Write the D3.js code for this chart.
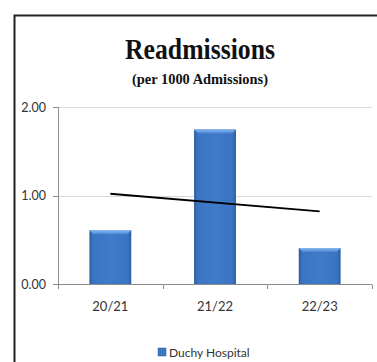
<!DOCTYPE html>
<html>
<head>
<meta charset="utf-8">
<script src="https://cdn.jsdelivr.net/npm/d3@7"></script>
<style>
  html, body { margin: 0; padding: 0; background: #fff; overflow: hidden; }
  svg { display: block; }
</style>
</head>
<body>
<svg id="chart" width="377" height="362"></svg>
<script>
// Readmission rates per 1000 admissions, by financial year
const categories = ["20/21", "21/22", "22/23"];
const seriesName = "Duchy Hospital";
const readmissions = [0.61, 1.75, 0.41];
const yTicks = [0, 1, 2];
const yTickLabels = ["0.00", "1.00", "2.00"];

const svg = d3.select("#chart");

// chart frame: only the top and left edges fall inside the view
svg.append("path")
  .attr("d", "M14.5,362V15.5H377")
  .attr("fill", "none")
  .attr("stroke", "#222").attr("stroke-width", 2);

// titles
svg.append("text")
  .attr("x", 200).attr("y", 59)
  .attr("text-anchor", "middle")
  .attr("font-family", "'Liberation Serif', 'DejaVu Serif', serif")
  .attr("font-weight", "bold")
  .attr("font-size", 30)
  .attr("textLength", 150).attr("lengthAdjust", "spacingAndGlyphs")
  .attr("fill", "#111")
  .text("Readmissions");

svg.append("text")
  .attr("x", 200).attr("y", 84)
  .attr("text-anchor", "middle")
  .attr("font-family", "'Liberation Serif', 'DejaVu Serif', serif")
  .attr("font-weight", "bold")
  .attr("font-size", 15)
  .attr("textLength", 136).attr("lengthAdjust", "spacingAndGlyphs")
  .attr("fill", "#111")
  .text("(per 1000 Admissions)");

const x = d3.scaleBand()
  .domain(categories)
  .range([58, 372])
  .paddingInner(0.6)
  .paddingOuter(0.3);

const xEdges = d3.scaleBand().domain(categories).range([58, 372]).padding(0);

const y = d3.scaleLinear().domain([0, 2]).range([284.3, 107.3]);

const labelFont = "'Lato', 'Open Sans', sans-serif";
const axisColor = "#8c8c8c";

// gridlines
svg.append("g")
  .selectAll("line")
  .data(yTicks.filter(d => d > 0))
  .join("line")
  .attr("x1", 58).attr("x2", 372)
  .attr("y1", d => Math.round(y(d)) + 0.5)
  .attr("y2", d => Math.round(y(d)) + 0.5)
  .attr("stroke", "#d9d9d9").attr("stroke-width", 1);

// bar shading
const defs = svg.append("defs");
const sideGrad = defs.append("linearGradient").attr("id", "barSide")
  .attr("x1", "0").attr("x2", "1").attr("y1", "0").attr("y2", "0");
sideGrad.append("stop").attr("offset", "0").attr("stop-color", "#2b5c9f");
sideGrad.append("stop").attr("offset", "0.08").attr("stop-color", "#3a74c2");
sideGrad.append("stop").attr("offset", "0.5").attr("stop-color", "#3f7bca");
sideGrad.append("stop").attr("offset", "0.92").attr("stop-color", "#3a74c2");
sideGrad.append("stop").attr("offset", "1").attr("stop-color", "#2b5c9f");

const topGrad = defs.append("linearGradient").attr("id", "barTop")
  .attr("x1", "0").attr("x2", "0").attr("y1", "0").attr("y2", "1");
topGrad.append("stop").attr("offset", "0").attr("stop-color", "#86b8f2");
topGrad.append("stop").attr("offset", "1").attr("stop-color", "#4a86d2");

const bars = svg.append("g");
bars.selectAll("rect.bar")
  .data(readmissions)
  .join("rect")
  .attr("class", "bar")
  .attr("x", (d, i) => x(categories[i]))
  .attr("width", x.bandwidth())
  .attr("y", d => y(d))
  .attr("height", d => y(0) - y(d))
  .attr("fill", "url(#barSide)");

bars.selectAll("path.bevel")
  .data(readmissions)
  .join("path")
  .attr("class", "bevel")
  .attr("d", (d, i) => {
    const x0 = x(categories[i]), x1 = x0 + x.bandwidth(), y0 = y(d), b = 4;
    return `M${x0},${y0}L${x1},${y0}L${x1 - b},${y0 + b}L${x0 + b},${y0 + b}Z`;
  })
  .attr("fill", "url(#barTop)");

// y axis
svg.append("line")
  .attr("x1", 58.5).attr("x2", 58.5)
  .attr("y1", y(2)).attr("y2", y(0))
  .attr("stroke", axisColor);
svg.append("g")
  .selectAll("line")
  .data(yTicks)
  .join("line")
  .attr("x1", 53).attr("x2", 58.5)
  .attr("y1", d => Math.round(y(d)) + 0.5)
  .attr("y2", d => Math.round(y(d)) + 0.5)
  .attr("stroke", axisColor);
svg.append("g")
  .selectAll("text")
  .data(yTicks)
  .join("text")
  .attr("x", 46)
  .attr("y", d => y(d) + 4.5)
  .attr("text-anchor", "end")
  .attr("font-family", labelFont)
  .attr("font-size", 12.5)
  .attr("fill", "#333")
  .text((d, i) => yTickLabels[i]);

// x axis
svg.append("line")
  .attr("x1", 58).attr("x2", 372)
  .attr("y1", Math.round(y(0)) + 0.5).attr("y2", Math.round(y(0)) + 0.5)
  .attr("stroke", axisColor);
const edges = categories.map(c => xEdges(c)).concat([372]);
svg.append("g")
  .selectAll("line")
  .data(edges)
  .join("line")
  .attr("x1", d => Math.round(d) + 0.5).attr("x2", d => Math.round(d) + 0.5)
  .attr("y1", Math.round(y(0)) + 0.5).attr("y2", Math.round(y(0)) + 5)
  .attr("stroke", axisColor);
svg.append("g")
  .selectAll("text")
  .data(categories)
  .join("text")
  .attr("x", d => x(d) + x.bandwidth() / 2)
  .attr("y", 311)
  .attr("text-anchor", "middle")
  .attr("font-family", labelFont)
  .attr("font-size", 13)
  .attr("fill", "#333")
  .text(d => d);

// linear trendline (least squares over the series)
const n = readmissions.length;
const xs = readmissions.map((d, i) => i + 1);
const mx = d3.mean(xs), my = d3.mean(readmissions);
const slope = d3.sum(xs, (xi, i) => (xi - mx) * (readmissions[i] - my)) /
              d3.sum(xs, xi => (xi - mx) ** 2);
const intercept = my - slope * mx;
const trend = [1, n].map(k => [x(categories[k - 1]) + x.bandwidth() / 2, y(intercept + slope * k)]);
svg.append("path")
  .attr("d", d3.line()(trend))
  .attr("stroke", "#000").attr("stroke-width", 1.8).attr("fill", "none");

// legend
svg.append("rect")
  .attr("x", 158).attr("y", 348)
  .attr("width", 8).attr("height", 8)
  .attr("fill", "#3d78c6").attr("stroke", "#2b5c9f").attr("stroke-width", 0.5);
svg.append("text")
  .attr("x", 169).attr("y", 357)
  .attr("font-family", labelFont)
  .attr("font-size", 12)
  .attr("fill", "#333")
  .text(seriesName);
</script>
</body>
</html>
